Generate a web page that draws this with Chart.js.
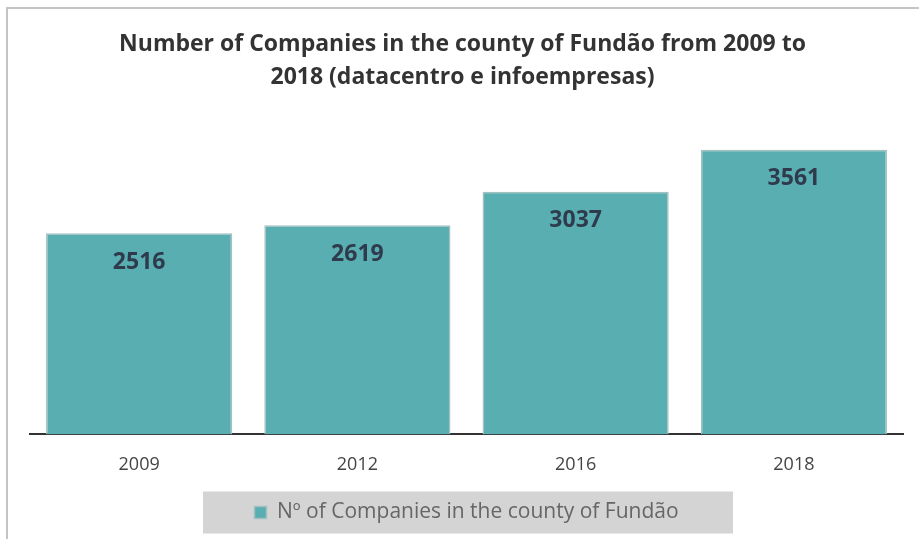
<!DOCTYPE html>
<html>
<head>
<meta charset="utf-8">
<script src="https://cdn.jsdelivr.net/npm/chart.js@4"></script>
<style>
  html, body { margin: 0; padding: 0; background: #fff; overflow: hidden; }
  .frame { position: absolute; left: 6px; top: 7px; width: 960px; height: 600px;
           border-top: 2px solid #c4c4c4; border-left: 2px solid #c4c4c4; }
  .graphContainer { position: absolute; left: 0; top: 0; width: 919px; height: 539px; }
</style>
</head>
<body>
<div class="frame"></div>
<div class="graphContainer"><canvas id="chart"></canvas></div>
<script>
// data
const years = ["2009", "2012", "2016", "2018"];
const companies = [2516, 2619, 3037, 3561];
const seriesName = "N\u00ba of Companies in the county of Fund\u00e3o";
const titleLines = [
  "Number of Companies in the county of Fund\u00e3o from 2009 to",
  "2018 (datacentro e infoempresas)"
];

// value labels drawn inside the top of each bar
const barLabels = {
  id: "barLabels",
  afterDatasetsDraw(chart) {
    const ctx = chart.ctx;
    const meta = chart.getDatasetMeta(0);
    ctx.save();
    ctx.font = "bold 23px 'Open Sans'";
    ctx.fillStyle = "#2f3b4c";
    ctx.textAlign = "center";
    ctx.textBaseline = "middle";
    meta.data.forEach((bar, i) => {
      ctx.fillText(String(companies[i]), bar.x, bar.y + 29);
    });
    ctx.restore();
  }
};

// grey box behind the legend, title nudged toward page centre
const legendBox = {
  id: "legendBox",
  afterLayout(chart) {
    if (chart.titleBlock) {
      chart.titleBlock.left -= 4;
      chart.titleBlock.right -= 4;
    }
  },
  beforeDraw(chart) {
    const lg = chart.legend;
    if (!lg || !lg.legendHitBoxes.length) return;
    const hb = lg.legendHitBoxes[0];
    const ctx = chart.ctx;
    ctx.save();
    ctx.fillStyle = "#d4d4d4";
    ctx.fillRect(203, hb.top + hb.height / 2 - 21, 530, 42);
    ctx.restore();
  }
};

const myChartRef = document.getElementById("chart").getContext("2d");
let myChart = new Chart(myChartRef, {
  type: "bar",
  data: {
    labels: years,
    datasets: [
      {
        label: seriesName,
        data: companies,
        backgroundColor: "#59aeb1",
        borderColor: "#a3bfc0",
        borderWidth: 1.5,
        categoryPercentage: 1,
        barPercentage: 0.853,
      },
    ],
  },
  options: {
    responsive: true,
    maintainAspectRatio: false,
    animation: false,
    layout: { padding: { left: 30, right: 16, top: 0, bottom: 6 } },
    scales: {
      x: {
        grid: { display: false, drawTicks: false },
        border: { display: true, color: "#333", width: 2 },
        ticks: { color: "#444", font: { family: "'Open Sans'", size: 18 }, padding: 20 },
      },
      y: {
        display: false,
        min: 0,
        max: 4000,
      },
    },
    plugins: {
      title: {
        display: true,
        text: titleLines,
        color: "#333",
        font: { family: "'Open Sans'", size: 23, weight: "bold", lineHeight: 1.43 },
        padding: { top: 28, bottom: 21 },
      },
      legend: {
        position: "bottom",
        fullSize: false,
        labels: {
          color: "#666",
          font: { family: "'Open Sans'", size: 21 },
          boxWidth: 12,
          boxHeight: 12,
          padding: 6,
        },
      },
      tooltip: { enabled: false },
    },
  },
  plugins: [barLabels, legendBox],
});
</script>
</body>
</html>
